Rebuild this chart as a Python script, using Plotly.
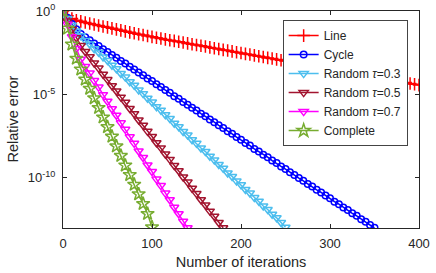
import plotly.graph_objects as go
import numpy as np

# iteration grids
iters_line = list(range(0, 401, 5))
iters_cycle = list(range(0, 351, 5))
iters_r03 = list(range(0, 251, 5))
iters_r05 = list(range(0, 181, 5))
iters_r07 = list(range(0, 141, 5))
iters_complete = list(range(0, 101, 5))

# log10 of relative error
log_err_line = [0, -0.28, -0.45, -0.55, -0.62, -0.69, -0.75, -0.81, -0.87, -0.93,
                -0.98, -1.04, -1.10, -1.16, -1.22, -1.28, -1.33, -1.39, -1.44, -1.50,
                -1.55, -1.60, -1.65, -1.70, -1.75, -1.79, -1.84, -1.89, -1.94, -1.99,
                -2.04, -2.08, -2.13, -2.18, -2.23, -2.28, -2.33, -2.37, -2.42, -2.47,
                -2.52, -2.57, -2.61, -2.66, -2.71, -2.76, -2.81, -2.85, -2.90, -2.95,
                -3.00, -3.05, -3.09, -3.14, -3.19, -3.24, -3.29, -3.33, -3.38, -3.43,
                -3.48, -3.53, -3.57, -3.62, -3.67, -3.72, -3.77, -3.81, -3.86, -3.91,
                -3.96, -4.01, -4.05, -4.10, -4.15, -4.20, -4.25, -4.29, -4.34, -4.39,
                -4.44]
log_err_cycle = [0, -0.40, -0.78, -1.10, -1.38, -1.58, -1.75, -1.94, -2.10, -2.29,
                 -2.45, -2.64, -2.80, -2.99, -3.15, -3.34, -3.50, -3.69, -3.85, -4.04,
                 -4.20, -4.39, -4.55, -4.74, -4.90, -5.10, -5.26, -5.45, -5.61, -5.80,
                 -5.96, -6.15, -6.31, -6.50, -6.66, -6.85, -7.01, -7.20, -7.36, -7.55,
                 -7.71, -7.91, -8.06, -8.26, -8.41, -8.61, -8.76, -8.96, -9.11, -9.31,
                 -9.47, -9.66, -9.82, -10.01, -10.17, -10.36, -10.52, -10.71, -10.87, -11.06,
                 -11.22, -11.42, -11.57, -11.77, -11.92, -12.12, -12.27, -12.47, -12.62, -12.82,
                 -12.99]
log_err_r03 = [0, -0.45, -0.85, -1.20, -1.49, -1.76, -1.98, -2.26, -2.47, -2.75,
               -2.97, -3.25, -3.46, -3.74, -3.96, -4.24, -4.45, -4.74, -4.95, -5.23,
               -5.45, -5.73, -5.94, -6.22, -6.44, -6.72, -6.93, -7.22, -7.43, -7.71,
               -7.93, -8.21, -8.42, -8.70, -8.92, -9.20, -9.42, -9.70, -9.91, -10.19,
               -10.41, -10.69, -10.90, -11.18, -11.40, -11.68, -11.89, -12.18, -12.39, -12.67,
               -12.96]
log_err_r05 = [0, -0.60, -1.10, -1.60, -2.07, -2.43, -2.74, -3.11, -3.42, -3.79,
               -4.11, -4.48, -4.79, -5.16, -5.47, -5.84, -6.15, -6.53, -6.84, -7.21,
               -7.52, -7.89, -8.20, -8.57, -8.89, -9.26, -9.57, -9.94, -10.25, -10.62,
               -10.94, -11.31, -11.62, -11.99, -12.30, -12.67, -12.99]
log_err_r07 = [0, -0.80, -1.55, -2.25, -2.89, -3.33, -3.72, -4.17, -4.56, -5.01,
               -5.41, -5.86, -6.25, -6.70, -7.09, -7.54, -7.93, -8.39, -8.78, -9.23,
               -9.62, -10.07, -10.46, -10.91, -11.31, -11.76, -12.15, -12.60, -12.99]
log_err_complete = [0, -1.05, -2.00, -2.85, -3.50, -4.10, -4.65, -5.22, -5.80, -6.37,
                    -6.95, -7.52, -8.10, -8.67, -9.25, -9.82, -10.40, -10.97, -11.55, -12.15,
                    -12.95]

y_tickvals = [1e0, 1e-5, 1e-10]
y_ticktext = ["10<sup>0</sup>", "10<sup>-5</sup>", "10<sup>-10</sup>"]
x_tickvals = [0, 100, 200, 300, 400]

series = [
    ("Line", iters_line, log_err_line, "#FF0000", "cross-thin", 9),
    ("Cycle", iters_cycle, log_err_cycle, "#0000FF", "circle-open", 6.5),
    ("Random <i>τ</i>=0.3", iters_r03, log_err_r03, "#4DBEEE", "triangle-down-open", 8),
    ("Random <i>τ</i>=0.5", iters_r05, log_err_r05, "#A2142F", "triangle-down-open", 8),
    ("Random <i>τ</i>=0.7", iters_r07, log_err_r07, "#FF00FF", "triangle-down-open", 8),
    ("Complete", iters_complete, log_err_complete, "#77AC30", "star-open", 10),
]

fig = go.Figure()
for name, xs, ls, color, sym, size in series:
    fig.add_trace(go.Scatter(
        x=xs, y=np.power(10.0, np.array(ls)), name=name, mode="lines+markers",
        line=dict(color=color, width=1.5),
        marker=dict(symbol=sym, size=size, color=color, line=dict(color=color, width=1.5)),
    ))

axis_col = "#262626"
fig.update_layout(
    width=436, height=273,
    margin=dict(l=63, r=17, t=11, b=45, autoexpand=False),
    paper_bgcolor="white", plot_bgcolor="white",
    font=dict(family="Liberation Sans, Arial, sans-serif", size=13, color=axis_col),
    showlegend=True,
    legend=dict(x=0.617, y=0.958, xanchor="left", yanchor="top",
                bgcolor="white", bordercolor="#444444", borderwidth=1,
                font=dict(size=12), itemwidth=30, tracegroupgap=0),
    annotations=[dict(text="Relative error", xref="paper", yref="paper",
                      x=-0.143, y=0.5, xanchor="center", yanchor="middle",
                      textangle=-90, showarrow=False, font=dict(size=14.5, color=axis_col))],
)
fig.update_xaxes(range=[0, 400], tickvals=x_tickvals, ticks="inside", ticklen=4,
                 showline=True, linecolor=axis_col, linewidth=1, mirror="ticks",
                 showgrid=False, zeroline=False, tickcolor=axis_col, automargin=False,
                 ticklabelstandoff=3,
                 title=dict(text="Number of iterations", font=dict(size=14.5), standoff=7))
fig.update_yaxes(type="log", range=[-13, 0], tickvals=y_tickvals, ticktext=y_ticktext,
                 ticks="inside", ticklen=4, ticklabelstandoff=4,
                 showline=True, linecolor=axis_col, linewidth=1, mirror="ticks",
                 showgrid=False, zeroline=False, tickcolor=axis_col, automargin=False)

fig.write_html("out.html", config={"displayModeBar": False},
               post_script="document.body.style.margin='0';")
